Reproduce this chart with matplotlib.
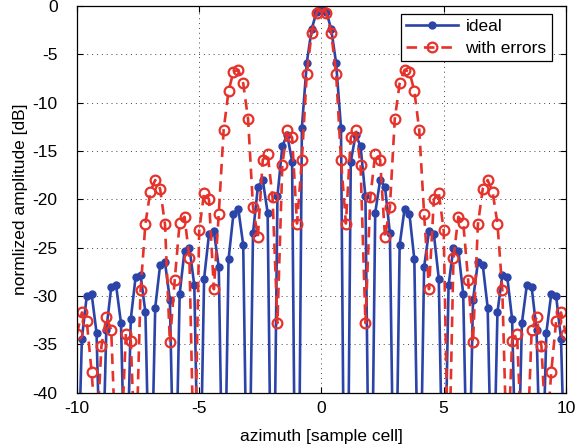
import matplotlib
matplotlib.use("Agg")
import matplotlib.pyplot as plt
import numpy as np

plt.rcParams['font.family'] = ['Liberation Sans', 'DejaVu Sans']
plt.rcParams['axes.unicode_minus'] = False

# sample cells -10 ... 10, step 0.2
azimuth = np.linspace(-10, 10, 101)

# ideal pattern [dB] (nulls fall below -40)
ideal_db = [
    -53, -34.4, -30.0, -29.8, -33.8, -53, -33.5, -29.1, -28.9, -32.8,
    -54, -32.4, -28.0, -27.8, -31.7, -55, -31.2, -26.8, -26.5, -30.4,
    -55, -29.8, -25.3, -25.0, -28.9, -56, -28.2, -23.6, -23.3, -27.0,
    -58, -26.2, -21.5, -21.0, -24.7, -60, -23.5, -18.7, -18.0, -21.4,
    -65, -19.7, -14.5, -13.3, -16.1, -75, -12.6, -5.9, -2.4, -0.6,
    0.0,
    -0.6, -2.4, -5.9, -12.6, -75, -16.1, -13.3, -14.5, -19.7, -65,
    -21.4, -18.0, -18.7, -23.5, -60, -24.7, -21.0, -21.5, -26.2, -58,
    -27.0, -23.3, -23.6, -28.2, -56, -28.9, -25.0, -25.3, -29.8, -55,
    -30.4, -26.5, -26.8, -31.2, -55, -31.7, -27.8, -28.0, -32.4, -54,
    -32.8, -28.9, -29.1, -33.5, -53, -33.8, -29.8, -30.0, -34.4, -53,
]

# pattern with errors [dB]
errors_db = [
    -33.9, -31.7, -32.6, -37.9, -45, -35.2, -32.2, -33.5, -47, -46,
    -33.9, -34.6, -48, -29.4, -22.5, -19.2, -18.0, -18.9, -22.6, -34.8,
    -28.3, -22.4, -21.8, -26.1, -50, -23.2, -19.3, -20.0, -29.3, -21.5,
    -12.8, -8.8, -6.8, -6.6, -8.0, -11.7, -20.8, -23.9, -15.9, -15.3,
    -19.8, -32.8, -16.4, -12.8, -13.6, -22.5, -15.9, -7.0, -2.8, -0.7,
    0.0,
    -0.7, -2.8, -7.0, -15.9, -22.5, -13.6, -12.8, -16.4, -32.8, -19.8,
    -15.3, -15.9, -23.9, -20.8, -11.7, -8.0, -6.6, -6.8, -8.8, -12.8,
    -21.5, -29.3, -20.0, -19.3, -23.2, -50, -26.1, -21.8, -22.4, -28.3,
    -34.8, -22.6, -18.9, -18.0, -19.2, -22.5, -29.4, -48, -34.6, -33.9,
    -46, -47, -33.5, -32.2, -35.2, -45, -37.9, -32.6, -31.7, -33.9,
]

fig = plt.figure(figsize=(5.81, 4.48), dpi=100)
ax = fig.add_axes([0.1325, 0.1234, 0.8415, 0.8632])

ax.plot(azimuth, ideal_db, '-', color='#2c44a8', lw=1.9,
        marker='o', ms=5, mfc='#2c44a8', mec='#2c44a8', label='ideal')
ax.plot(azimuth, errors_db, '--', color='#e5322b', lw=1.9, dashes=(4, 2.6),
        marker='o', ms=7, mfc='none', mec='#e5322b', mew=1.6,
        label='with errors')

ax.set_xlim(-10, 10)
ax.set_ylim(-40, 0)
ax.set_xticks([-10, -5, 0, 5, 10])
ax.set_yticks(range(-40, 1, 5))
ax.tick_params(direction='in', top=True, right=True, labelsize=12.5, length=4)
ax.tick_params(axis='x', pad=6)
ax.tick_params(axis='y', pad=14)
ax.grid(True, linestyle=(0, (1, 4)), color='#444444', lw=0.7)
for s in ax.spines.values():
    s.set_linewidth(0.9)

ax.set_xlabel('azimuth [sample cell]', fontsize=12.5, labelpad=9)
ax.set_ylabel('normlized amplitude [dB]', fontsize=12.5, labelpad=3)

leg = ax.legend(loc='upper right', bbox_to_anchor=(0.971, 0.979),
                fancybox=False, framealpha=1,
                edgecolor='black', fontsize=12.5, handlelength=3.0,
                borderaxespad=0, borderpad=0.3, labelspacing=0.35,
                handletextpad=0.4)
leg.get_frame().set_linewidth(0.9)

fig.savefig('out.png', dpi=100)
